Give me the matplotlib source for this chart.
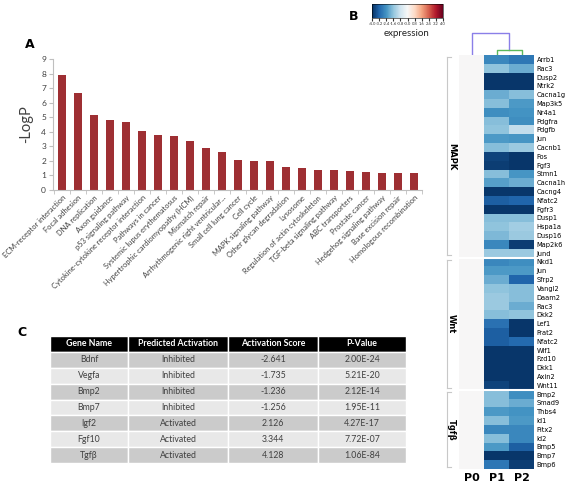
import numpy as np
import matplotlib
matplotlib.use('Agg')
import matplotlib.pyplot as plt

plt.rcParams['font.family'] = ['Lato', 'DejaVu Sans']

# panel A: KEGG pathways
pathways = ['ECM-receptor interaction', 'Focal adhesion', 'DNA replication', 'Axon guidance',
            'p53 signaling pathway', 'Cytokine-cytokine receptor interaction', 'Pathways in cancer',
            'Systemic lupus erythematosus', 'Hypertrophic cardiomyopathy (HCM)', 'Mismatch repair',
            'Arrhythmogenic right ventricular...', 'Small cell lung cancer', 'Cell cycle',
            'MAPK signaling pathway', 'Other glycan degradation', 'Lysosome',
            'Regulation of actin cytoskeleton', 'TGF-beta signaling pathway', 'ABC transporters',
            'Prostate cancer', 'Hedgehog signaling pathway', 'Base excision repair',
            'Homologous recombination']
neg_log_p = [7.9, 6.64, 5.17, 4.8, 4.65, 4.07, 3.75, 3.7, 3.36, 2.86, 2.63, 2.06, 2.01,
             1.97, 1.6, 1.51, 1.4, 1.35, 1.3, 1.24, 1.19, 1.19, 1.19]

# panel B: heatmap
groups = ['MAPK', 'Wnt', 'Tgf\u03b2']
mapk_genes = ['Arrb1', 'Rac3', 'Dusp2', 'Ntrk2', 'Cacna1g', 'Map3k5', 'Nr4a1', 'Pdgfra', 'Pdgfb',
              'Jun', 'Cacnb1', 'Fos', 'Fgf3', 'Stmn1', 'Cacna1h', 'Cacng4', 'Nfatc2', 'Fgfr3',
              'Dusp1', 'Hspa1a', 'Dusp16', 'Map2k6', 'Jund']
wnt_genes = ['Nkd1', 'Jun', 'Sfrp2', 'Vangl2', 'Daam2', 'Rac3', 'Dkk2', 'Lef1', 'Frat2', 'Nfatc2',
             'Wif1', 'Fzd10', 'Dkk1', 'Axin2', 'Wnt11']
tgfb_genes = ['Bmp2', 'Smad9', 'Thbs4', 'Id1', 'Pitx2', 'Id2', 'Bmp5', 'Bmp7', 'Bmp6']
mapk_p1 = [-2.6, -1.6, -3.9, -3.9, -2.0, -1.7, -2.5, -1.7, -1.6, -2.3, -1.7, -3.7, -3.8, -1.7,
           -2.2, -3.9, -3.3, -3.9, -1.7, -1.6, -1.8, -2.6, -1.5]
mapk_p2 = [-2.9, -2.0, -3.9, -3.9, -1.7, -2.3, -2.4, -2.5, -1.0, -2.35, -1.5, -3.9, -3.9, -2.35,
           -2.0, -3.9, -3.2, -3.9, -1.7, -1.4, -1.5, -3.8, -1.5]
wnt_p1 = [-2.6, -2.3, -2.0, -1.6, -1.5, -1.5, -1.7, -3.0, -3.3, -3.3, -3.9, -3.9, -3.9, -3.9, -3.7]
wnt_p2 = [-2.5, -2.3, -3.2, -1.7, -1.7, -2.0, -1.6, -3.9, -3.9, -3.1, -3.9, -3.9, -3.9, -3.9, -3.9]
tgfb_p1 = [-1.7, -1.7, -2.3, -1.7, -2.6, -1.7, -2.3, -3.9, -2.9]
tgfb_p2 = [-2.5, -2.0, -2.4, -2.3, -2.6, -2.6, -3.3, -3.9, -3.8]
samples = ['P0', 'P1', 'P2']

# panel C: table
tbl_header = ['Gene Name', 'Predicted Activation', 'Activation Score', 'P-Value']
tbl_genes = ['Bdnf', 'Vegfa', 'Bmp2', 'Bmp7', 'Igf2', 'Fgf10', 'Tgf\u03b2']
tbl_state = ['Inhibited', 'Inhibited', 'Inhibited', 'Inhibited', 'Activated', 'Activated', 'Activated']
tbl_score = ['-2.641', '-1.735', '-1.236', '-1.256', '2.126', '3.344', '4.128']
tbl_pval = ['2.00E-24', '5.21E-20', '2.12E-14', '1.95E-11', '4.27E-17', '7.72E-07', '1.06E-84']

W, H = 565, 491
fig = plt.figure(figsize=(W / 100, H / 100), dpi=100)


def frac(x0, y0, x1, y1):
    # pixel box (top-left origin) -> figure fraction rect
    return [x0 / W, 1 - y1 / H, (x1 - x0) / W, (y1 - y0) / H]


# ---------- A ----------
axA = fig.add_axes(frac(53, 59, 422, 190))
x = np.arange(len(pathways))
axA.bar(x, neg_log_p, width=0.5, color='#9e2f33')
axA.set_xlim(-0.56, len(pathways) - 0.5)
axA.set_ylim(0, 9)
axA.set_yticks(range(10))
axA.set_xticks(x)
axA.set_xticklabels(pathways, rotation=45, ha='right', rotation_mode='anchor',
                    fontsize=5.4, color='#404040')
axA.set_xticks(np.arange(-0.5, len(pathways), 1), minor=True)
axA.tick_params(axis='x', which='major', length=0, pad=3)
axA.tick_params(axis='x', which='minor', length=3, color='#bfbfbf')
axA.tick_params(axis='y', labelsize=6, length=3, color='#bfbfbf', labelcolor='#404040', pad=2)
for s in ['top', 'right']:
    axA.spines[s].set_visible(False)
for s in ['left', 'bottom']:
    axA.spines[s].set_color('#bfbfbf')
    axA.spines[s].set_linewidth(0.8)
axA.set_ylabel('-LogP', fontsize=10.5, color='#404040', labelpad=6)
fig.text(30 / W, 1 - 45 / H, 'A', fontsize=9, fontweight='bold', family='DejaVu Sans',
         ha='center', va='center')

# ---------- B ----------
genes = mapk_genes + wnt_genes + tgfb_genes
p1 = mapk_p1 + wnt_p1 + tgfb_p1
p2 = mapk_p2 + wnt_p2 + tgfb_p2
mat = np.column_stack([np.zeros(len(genes)), p1, p2])

axB = fig.add_axes(frac(459, 55, 534, 469))
mesh = axB.pcolormesh(mat, cmap='RdBu_r', vmin=-4, vmax=4)
axB.set_xlim(0, 3)
axB.set_ylim(len(genes), 0)
sizes = [len(mapk_genes), len(wnt_genes), len(tgfb_genes)]
bounds = np.cumsum([0] + sizes)
for b in bounds[1:-1]:
    axB.axhline(b, color='white', lw=1.5)
axB.yaxis.tick_right()
axB.set_yticks(np.arange(len(genes)) + 0.5)
axB.set_yticklabels(genes, fontsize=4.8, family=['Liberation Sans Narrow', 'DejaVu Sans'])
axB.tick_params(axis='y', length=0, pad=2)
axB.set_xticks(np.arange(3) + 0.5)
axB.set_xticklabels(samples, fontsize=8, fontweight='bold', family='DejaVu Sans')
axB.tick_params(axis='x', length=0, pad=3)
for s in axB.spines.values():
    s.set_visible(False)

# group brackets
for g, lo, hi in zip(groups, bounds[:-1], bounds[1:]):
    y0 = lo + 0.25
    y1 = hi - 0.25
    xl = -0.47
    axB.plot([xl, xl], [y0, y1], color='#c8c8c8', lw=0.8, clip_on=False)
    axB.plot([xl, xl + 0.15], [y0, y0], color='#c8c8c8', lw=0.8, clip_on=False)
    axB.plot([xl, xl + 0.15], [y1, y1], color='#c8c8c8', lw=0.8, clip_on=False)
    axB.text(-0.3, (lo + hi) / 2, g, rotation=270, fontsize=6, fontweight='bold',
             family='DejaVu Sans', ha='center', va='center', clip_on=False)

# dendrogram
axD = fig.add_axes(frac(459, 30, 534, 55))
axD.plot([0.5, 0.5, 2.0, 2.0], [0, 1 - 3 / 25, 1 - 3 / 25, 5 / 25], color='#8a7fe8', lw=1)
axD.plot([1.5, 1.5, 2.5, 2.5], [0, 5 / 25, 5 / 25, 0], color='#5cb85c', lw=1)
axD.set_xlim(0, 3)
axD.set_ylim(0, 1)
axD.axis('off')

# colorbar
cax = fig.add_axes(frac(372, 4, 443, 18))
cb = fig.colorbar(mesh, cax=cax, orientation='horizontal', ticks=np.arange(-4, 4.01, 0.8))
cb.ax.set_xticklabels(['%.1f' % t for t in np.arange(-4, 4.01, 0.8)])
cb.ax.tick_params(labelsize=3, length=2, pad=1, colors='#333333')
cb.outline.set_linewidth(0.4)
fig.text(407 / W, 1 - 33 / H, 'expression', fontsize=7, ha='center', va='center', color='#222222')
fig.text(354 / W, 1 - 16 / H, 'B', fontsize=9, fontweight='bold', family='DejaVu Sans',
         ha='center', va='center')

# ---------- C ----------
axC = fig.add_axes(frac(50, 336, 406, 463))
axC.axis('off')
rows = [list(r) for r in zip(tbl_genes, tbl_state, tbl_score, tbl_pval)]
col_w = np.array([78, 100, 90, 88]) / 356
tab = axC.table(cellText=rows, colLabels=tbl_header, colWidths=list(col_w),
                cellLoc='center', bbox=[0, 0, 1, 1])
tab.auto_set_font_size(False)
for (r, c), cell in tab.get_celld().items():
    cell.set_edgecolor('white')
    cell.set_linewidth(1)
    if r == 0:
        cell.set_facecolor('black')
        cell.get_text().set_color('white')
        cell.get_text().set_fontweight('bold')
        cell.get_text().set_fontsize(6.3)
    else:
        cell.set_facecolor('#cbcbcb' if r % 2 == 1 else '#e8e8e8')
        cell.get_text().set_color('#404040')
        cell.get_text().set_fontsize(6.3)
fig.text(22 / W, 1 - 333 / H, 'C', fontsize=9, fontweight='bold', family='DejaVu Sans',
         ha='center', va='center')

fig.savefig('out.png', dpi=100)
